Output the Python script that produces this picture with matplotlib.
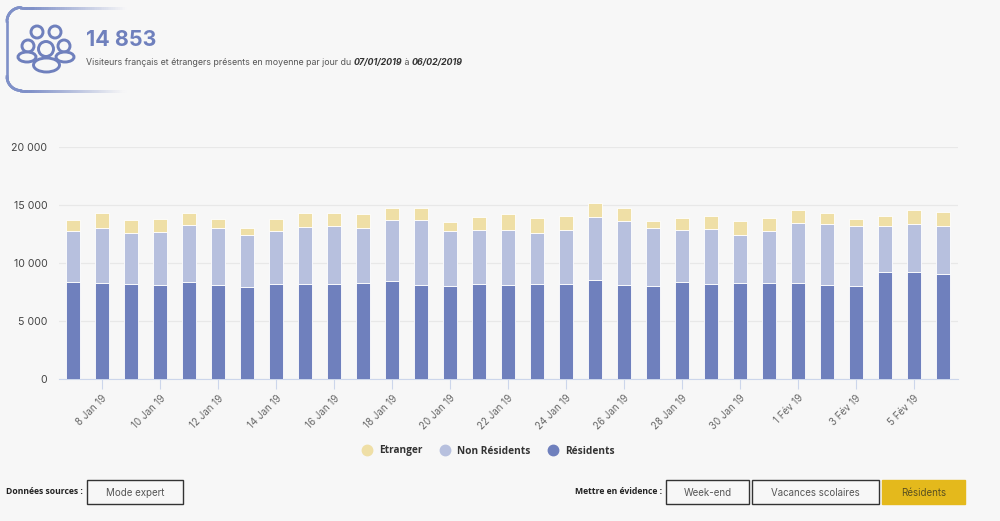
import numpy as np
import matplotlib
matplotlib.use("Agg")
import matplotlib.pyplot as plt
from matplotlib.collections import LineCollection
from matplotlib.colors import to_rgb
from matplotlib.lines import Line2D
from matplotlib.patches import Circle, Ellipse, Rectangle

plt.rcParams['font.family'] = ['Inter', 'DejaVu Sans']

days = ["7 Jan 19", "8 Jan 19", "9 Jan 19", "10 Jan 19", "11 Jan 19", "12 Jan 19", "13 Jan 19", "14 Jan 19",
        "15 Jan 19", "16 Jan 19", "17 Jan 19", "18 Jan 19", "19 Jan 19", "20 Jan 19", "21 Jan 19", "22 Jan 19",
        "23 Jan 19", "24 Jan 19", "25 Jan 19", "26 Jan 19", "27 Jan 19", "28 Jan 19", "29 Jan 19", "30 Jan 19",
        "31 Jan 19", "1 Fév 19", "2 Fév 19", "3 Fév 19", "4 Fév 19", "5 Fév 19", "6 Fév 19"]
residents = [8330, 8250, 8190, 8130, 8330, 8080, 7930, 8160, 8160, 8160, 8250, 8420, 8080, 7990, 8190, 8130,
             8190, 8190, 8510, 8110, 7990, 8330, 8190, 8250, 8250, 8250, 8130, 8050, 9200, 9200, 9050]
non_residents = [4400, 4740, 4370, 4510, 4940, 4910, 4460, 4630, 4970, 5060, 4740, 5320, 5660, 4800, 4660, 4710,
                 4370, 4660, 5430, 5490, 5000, 4510, 4710, 4170, 4540, 5170, 5200, 5120, 3970, 4140, 4170]
etranger = [980, 1290, 1150, 1150, 1010, 830, 600, 980, 1150, 1060, 1240, 1030, 1040, 720, 1150, 1380,
            1290, 1240, 1240, 1180, 660, 1060, 1180, 1240, 1120, 1180, 950, 660, 920, 1260, 1210]
y_ticks = [0, 5000, 10000, 15000, 20000]
y_labels = ["0", "5 000", "10 000", "15 000", "20 000"]

BG = "#f7f7f7"
BLUE = "#6f80bd"
LIGHT = "#b7c0de"
YELLOW = "#efdfa6"
W, H = 1000, 521

fig = plt.figure(figsize=(W / 100, H / 100), dpi=100, facecolor=BG)
ax = fig.add_axes([58.5 / W, 1 - 379 / H, 899 / W, 232 / H], facecolor=BG)

x = np.arange(len(days))
res = np.array(residents)
non = np.array(non_residents)
etr = np.array(etranger)
ax.bar(x, res, width=0.47, color=BLUE, edgecolor="white", linewidth=0.6, zorder=3)
ax.bar(x, non, width=0.47, bottom=res, color=LIGHT, edgecolor="white", linewidth=0.6, zorder=3)
ax.bar(x, etr, width=0.47, bottom=res + non, color=YELLOW, edgecolor="white", linewidth=0.6, zorder=3)

ax.set_xlim(-0.5, len(days) - 0.5)
ax.set_ylim(0, 20000)
ax.set_yticks(y_ticks, y_labels)
ax.set_xticks(x[1::2], days[1::2], rotation=45, ha="right", rotation_mode="anchor")
ax.grid(axis="y", color="#e8e8e8", linewidth=0.9, zorder=0)
for s in ["top", "left", "right"]:
    ax.spines[s].set_visible(False)
ax.spines["bottom"].set_color("#ccd6eb")
ax.tick_params(axis="y", length=0, pad=8, labelsize=7.6, labelcolor="#444444")
ax.tick_params(axis="x", length=7, width=0.8, color="#ccd6eb", pad=3, labelsize=7, labelcolor="#666666")

handles = [Line2D([], [], ls="", marker="o", ms=7.5, color=c, label=n)
           for c, n in zip([YELLOW, LIGHT, BLUE], ["Etranger", "Non Résidents", "Résidents"])]
fig.legend(handles=handles, ncol=3, frameon=False, loc="center", bbox_to_anchor=(486 / W, 1 - 451 / H),
           prop={"family": "Open Sans", "size": 7.3, "weight": "bold"}, labelcolor="#333333",
           handletextpad=0.2, columnspacing=1.2)

# page elements around the chart, in pixel coordinates
over = fig.add_axes([0, 0, 1, 1], facecolor="none")
over.set_xlim(0, W)
over.set_ylim(H, 0)
over.axis("off")

# panel border fading out to the right, opaque colours so the segments leave no seams
t1 = np.linspace(-np.pi / 2, -np.pi, 20)
t2 = np.linspace(np.pi, np.pi / 2, 20)
px = np.r_[np.linspace(125, 21, 60), 21 + 14 * np.cos(t1), 21 + 14 * np.cos(t2), np.linspace(21, 125, 60)]
py = np.r_[np.full(60, 7.5), 21.5 + 14 * np.sin(t1), 76.5 + 14 * np.sin(t2), np.full(60, 90.5)]
pts = np.c_[px, py]
segs = np.stack([pts[:-1], pts[1:]], axis=1)
mx = segs[:, :, 0].mean(axis=1)
fade = np.clip((125 - mx) / 95, 0, 1)[:, None]
cols = fade * np.array(to_rgb("#7f90c8")) + (1 - fade) * np.array(to_rgb(BG))
over.add_collection(LineCollection(segs, colors=cols, linewidths=1.9, capstyle="projecting"))

# visitors icon
ic = {"fc": BG, "ec": BLUE, "lw": 2.1}
for cx, cy, r in [(37, 32, 6), (55, 32, 6), (28, 46, 6), (64, 46, 6)]:
    over.add_patch(Circle((cx, cy), r, **ic))
for cx in (27, 65):
    over.add_patch(Ellipse((cx, 57), 18, 10, **ic))
over.add_patch(Circle((46, 49), 7.5, **ic))
over.add_patch(Ellipse((46.5, 65), 26, 14, **ic))

over.text(86, 40, "14 853", color=BLUE, fontsize=15.4, fontweight="bold", va="center")
sub = over.text(86, 62.5, "Visiteurs français et étrangers présents en moyenne par jour du ", color="#555555",
                fontsize=6.35, va="center")
txt = sub
for s, kw in [("07/01/2019", {"fontweight": "bold", "fontstyle": "italic", "color": "#333333"}),
              (" à ", {"color": "#555555"}),
              ("06/02/2019", {"fontweight": "bold", "fontstyle": "italic", "color": "#333333"})]:
    txt = over.annotate(s, xy=(1, 0.5), xycoords=txt, va="center", fontsize=6.35, **kw)

# buttons
over.text(6, 492, "Données sources :", fontsize=6.2, fontweight="bold", color="#222222", va="center",
          family="Open Sans")
over.text(575, 492, "Mettre en évidence :", fontsize=6.2, fontweight="bold", color="#222222", va="center",
          family="Open Sans")
buttons = [(87, 183, "Mode expert", "none", "#333333", "#555555"), (666, 749, "Week-end", "none", "#333333", "#555555"),
           (752, 879, "Vacances scolaires", "none", "#333333", "#555555"),
           (882, 965, "Résidents", "#e4b91c", "#e4b91c", "#5a5020")]
for x0, x1, label, fc, ec, tc in buttons:
    over.add_patch(Rectangle((x0, 479.5), x1 - x0, 24, fc=fc, ec=ec, lw=1))
    over.text((x0 + x1) / 2, 491.5, label, fontsize=7, color=tc, ha="center", va="center_baseline")

fig.savefig("out.png", dpi=100, facecolor=BG)
